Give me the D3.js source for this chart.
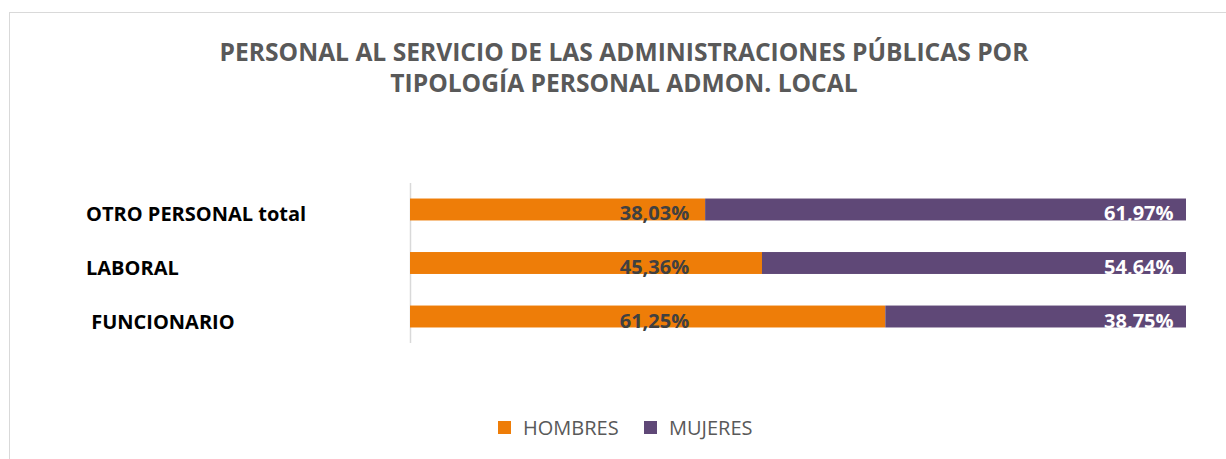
<!DOCTYPE html>
<html>
<head>
<meta charset="utf-8">
<script src="https://cdn.jsdelivr.net/npm/d3@7"></script>
<style>
  body { margin: 0; background: #fff; }
  text { font-family: "Open Sans", sans-serif; }
</style>
</head>
<body>
<svg id="chart" width="1226" height="459"></svg>
<script>
// data
var categories = ["OTRO PERSONAL total", "LABORAL", " FUNCIONARIO"];
var hombres = [38.03, 45.36, 61.25];
var mujeres = [61.97, 54.64, 38.75];
var seriesNames = ["HOMBRES", "MUJERES"];
var titleLines = ["PERSONAL AL SERVICIO DE LAS ADMINISTRACIONES PÚBLICAS POR", "TIPOLOGÍA PERSONAL ADMON. LOCAL"];

var colors = ["#EE7D08", "#5F4877"];

var svg = d3.select("#chart");

// chart area border (runs off the right and bottom of the picture)
svg.append("rect")
  .attr("x", 9.5).attr("y", 12.5)
  .attr("width", 1260).attr("height", 500)
  .style("fill", "none")
  .style("stroke", "#D9D9D9");

svg.append("g").selectAll("text")
  .data(titleLines)
  .enter().append("text")
  .attr("x", 624)
  .attr("y", function(d, i){ return 61 + i * 31; })
  .attr("text-anchor", "middle")
  .style("font-size", "24.6px")
  .style("font-weight", "bold")
  .style("fill", "#595959")
  .text(function(d){ return d; });

var x = d3.scaleLinear().domain([0, 100]).range([410, 1186]);
var y = d3.scaleBand().domain(categories).range([183, 343])
  .paddingInner(0.59).paddingOuter(0.29);

var rows = categories.map(function(c, i){
  return {cat: c, h: hombres[i], m: mujeres[i]};
});

// axis line
svg.append("line")
  .attr("x1", 410.5).attr("x2", 410.5)
  .attr("y1", 183).attr("y2", 343)
  .style("stroke", "#D9D9D9")
  .style("stroke-width", 1.5);

// category labels, left aligned as in the original
svg.append("g").selectAll("text")
  .data(rows)
  .enter().append("text")
  .attr("x", 86)
  .attr("y", function(d){ return y(d.cat) + y.bandwidth() / 2 + 5; })
  .attr("dy", "0.35em")
  .style("font-size", "20px")
  .style("font-weight", "bold")
  .style("fill", "#000")
  .style("white-space", "pre")
  .text(function(d){ return d.cat; });

var bars = svg.append("g").selectAll("g")
  .data(rows)
  .enter().append("g");

bars.append("rect")
  .attr("x", x(0))
  .attr("y", function(d){ return y(d.cat); })
  .attr("width", function(d){ return x(d.h) - x(0); })
  .attr("height", y.bandwidth())
  .style("fill", colors[0]);

bars.append("rect")
  .attr("x", function(d){ return x(d.h); })
  .attr("y", function(d){ return y(d.cat); })
  .attr("width", function(d){ return x(d.h + d.m) - x(d.h); })
  .attr("height", y.bandwidth())
  .style("fill", colors[1]);

var fmt = function(v){ return v.toFixed(2).replace(".", ",") + "%"; };

bars.append("text")
  .attr("x", x(31.5))
  .attr("y", function(d){ return y(d.cat) + y.bandwidth() / 2 + 4; })
  .attr("dy", "0.35em")
  .attr("text-anchor", "middle")
  .style("font-size", "20px")
  .style("font-weight", "bold")
  .style("fill", "#404040")
  .text(function(d){ return fmt(d.h); });

bars.append("text")
  .attr("x", x(98.4))
  .attr("y", function(d){ return y(d.cat) + y.bandwidth() / 2 + 4; })
  .attr("dy", "0.35em")
  .attr("text-anchor", "end")
  .style("font-size", "20px")
  .style("font-weight", "bold")
  .style("fill", "#fff")
  .text(function(d){ return fmt(d.m); });

// legend
var legend = svg.append("g").selectAll("g")
  .data(seriesNames)
  .enter().append("g")
  .attr("transform", function(d, i){ return "translate(" + (498 + i * 146) + ",421)"; });

legend.append("rect")
  .attr("width", 13).attr("height", 13)
  .style("fill", function(d, i){ return colors[i]; });

legend.append("text")
  .attr("x", 25).attr("y", 7)
  .attr("dy", "0.35em")
  .style("font-size", "20px")
  .style("fill", "#595959")
  .text(function(d){ return d; });
</script>
</body>
</html>
